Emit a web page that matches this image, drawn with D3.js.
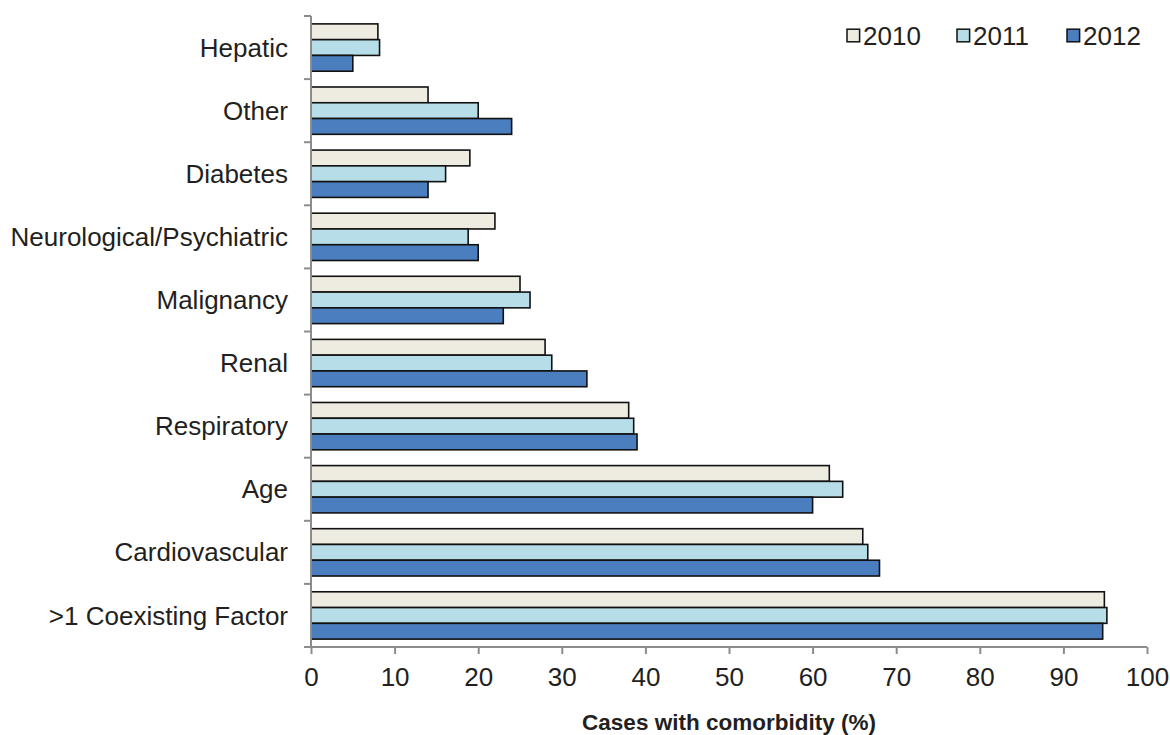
<!DOCTYPE html>
<html>
<head>
<meta charset="utf-8">
<script src="https://cdn.jsdelivr.net/npm/d3@7"></script>
<style>
  html, body { margin: 0; padding: 0; background: #fff; }
  svg { display: block; font-family: "Liberation Sans", Arial, sans-serif; }
</style>
</head>
<body>
<svg id="chart" width="1170" height="735"></svg>
<script>
// Comorbidity categories, top to bottom
const categories = ["Hepatic", "Other", "Diabetes", "Neurological/Psychiatric", "Malignancy",
  "Renal", "Respiratory", "Age", "Cardiovascular", ">1 Coexisting Factor"];
const years = ["2010", "2011", "2012"];
// Percentage of cases with each comorbidity, by year
const values2010 = [8, 14, 19, 22, 25, 28, 38, 62, 66, 94.9];
const values2011 = [8.2, 20, 16.1, 18.8, 26.2, 28.8, 38.6, 63.6, 66.6, 95.2];
const values2012 = [5, 24, 14, 20, 23, 33, 39, 60, 68, 94.7];
const xTicks = [0, 10, 20, 30, 40, 50, 60, 70, 80, 90, 100];

const colors = { "2010": "#eeece1", "2011": "#b7dee8", "2012": "#4a7ebf" };
const seriesValues = { "2010": values2010, "2011": values2011, "2012": values2012 };
const textColor = "#231f20";
const fontSize = 26;

const svg = d3.select("#chart");
const margin = { left: 311, right: 23, top: 16, bottom: 88 };
const W = 1170, H = 735;

const x = d3.scaleLinear().domain([0, 100]).range([margin.left, W - margin.right]);
const y = d3.scaleBand().domain(categories).range([margin.top, H - margin.bottom])
  .paddingInner(0.25).paddingOuter(0.125);
const yInner = d3.scaleBand().domain(years).range([0, y.bandwidth()]);

const rows = categories.map((c, i) => ({ cat: c, vals: years.map(yr => ({ year: yr, v: seriesValues[yr][i] })) }));

// Bars
const g = svg.append("g");
g.selectAll("g.cat").data(rows).join("g")
  .attr("class", "cat")
  .attr("transform", d => `translate(0,${y(d.cat)})`)
  .selectAll("rect").data(d => d.vals).join("rect")
  .attr("x", x(0))
  .attr("y", d => yInner(d.year))
  .attr("width", d => x(d.v) - x(0))
  .attr("height", yInner.bandwidth())
  .attr("fill", d => colors[d.year])
  .attr("stroke", "#111")
  .attr("stroke-width", 1.6);

// Y axis: tick marks at category boundaries
const axisColor = "#8c8c8c";
const yTop = margin.top, yBot = H - margin.bottom;
const step = (yBot - yTop) / categories.length;
const boundaries = d3.range(categories.length + 1).map(i => yTop + i * step);
svg.append("line").attr("x1", x(0)).attr("x2", x(0)).attr("y1", yTop).attr("y2", yBot)
  .attr("stroke", axisColor).attr("stroke-width", 2);
svg.selectAll("line.ytick").data(boundaries).join("line")
  .attr("class", "ytick")
  .attr("x1", x(0) - 7).attr("x2", x(0))
  .attr("y1", d => d).attr("y2", d => d)
  .attr("stroke", axisColor).attr("stroke-width", 2);

// Category labels
svg.selectAll("text.cat").data(categories).join("text")
  .attr("class", "cat")
  .attr("x", 288)
  .attr("y", d => y(d) + y.bandwidth() / 2)
  .attr("dy", "0.35em")
  .attr("text-anchor", "end")
  .attr("font-size", fontSize)
  .attr("fill", textColor)
  .text(d => d);

// X axis
const xAxis = d3.axisBottom(x).tickValues(xTicks).tickSize(7).tickPadding(14).tickFormat(d3.format("d"));
const xg = svg.append("g").attr("transform", `translate(0,${yBot})`).call(xAxis);
xg.select(".domain").attr("stroke", axisColor).attr("stroke-width", 2)
  .attr("d", `M${x(0)},0H${x(100)}`);
xg.selectAll(".tick line").attr("stroke", axisColor).attr("stroke-width", 2);
xg.selectAll(".tick text").attr("font-size", fontSize).attr("fill", textColor)
  .attr("font-family", "'Liberation Sans', Arial, sans-serif");

// Axis title
svg.append("text")
  .attr("x", x(50)).attr("y", 730)
  .attr("text-anchor", "middle")
  .attr("font-size", 22.5).attr("font-weight", "bold").attr("fill", textColor)
  .text("Cases with comorbidity (%)");

// Legend
const legendX = [847, 957, 1067];
const lg = svg.selectAll("g.legend").data(years).join("g")
  .attr("class", "legend")
  .attr("transform", (d, i) => `translate(${legendX[i]},35.5)`);
lg.append("rect").attr("x", 0).attr("y", -6.3).attr("width", 12.6).attr("height", 12.6)
  .attr("fill", d => colors[d]).attr("stroke", "#111").attr("stroke-width", 1.5);
lg.append("text").attr("x", 16).attr("y", 0).attr("dy", "0.35em")
  .attr("font-size", fontSize).attr("fill", textColor).text(d => d);
</script>
</body>
</html>
